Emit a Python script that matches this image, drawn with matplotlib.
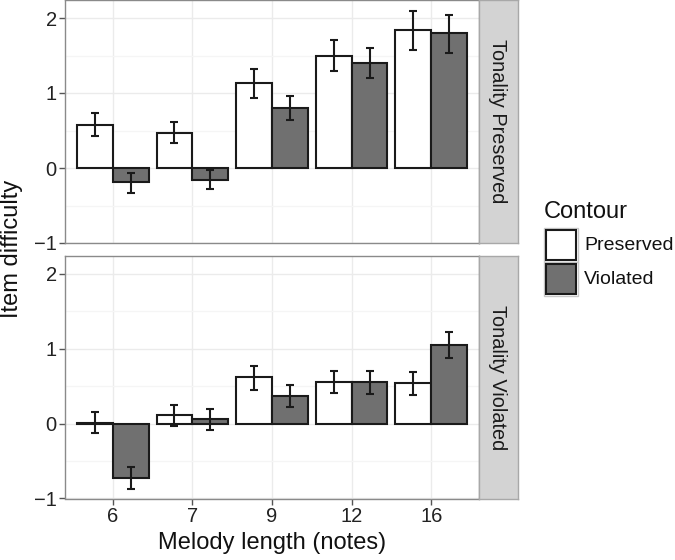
import matplotlib
matplotlib.use("Agg")
import matplotlib.pyplot as plt
from matplotlib.patches import Rectangle
import numpy as np

plt.rcParams['font.family'] = ['Liberation Sans', 'DejaVu Sans']

lengths = ["6", "7", "9", "12", "16"]
contours = ["Preserved", "Violated"]
tonality = ["Tonality Preserved", "Tonality Violated"]

# Tonality Preserved panel
tp_pres = [0.58, 0.47, 1.13, 1.50, 1.84]
tp_pres_lo = [0.43, 0.33, 0.94, 1.29, 1.58]
tp_pres_hi = [0.74, 0.62, 1.32, 1.71, 2.09]
tp_viol = [-0.19, -0.16, 0.80, 1.40, 1.80]
tp_viol_lo = [-0.33, -0.28, 0.64, 1.20, 1.54]
tp_viol_hi = [-0.06, -0.02, 0.96, 1.60, 2.04]

# Tonality Violated panel
tv_pres = [0.01, 0.11, 0.62, 0.56, 0.54]
tv_pres_lo = [-0.12, -0.03, 0.45, 0.41, 0.38]
tv_pres_hi = [0.15, 0.25, 0.77, 0.71, 0.69]
tv_viol = [-0.73, 0.06, 0.37, 0.55, 1.05]
tv_viol_lo = [-0.87, -0.08, 0.22, 0.39, 0.88]
tv_viol_hi = [-0.58, 0.19, 0.51, 0.70, 1.23]

fill_colors = {"Preserved": "#ffffff", "Violated": "#707070"}

W, H = 675, 560
fig = plt.figure(figsize=(W / 100, H / 100), dpi=100)

def fx(px):
    return px / W

def fy(py):
    return 1 - py / H

left, right = 65, 479
panels = [(0, 243), (256, 498.5)]
strip_w = 39

data = [
    (tp_pres, tp_pres_lo, tp_pres_hi, tp_viol, tp_viol_lo, tp_viol_hi),
    (tv_pres, tv_pres_lo, tv_pres_hi, tv_viol, tv_viol_lo, tv_viol_hi),
]

x = np.arange(1, len(lengths) + 1)
bw = 0.45
border_col = "#8a8a8a"

for i, (top, bot) in enumerate(panels):
    ax = fig.add_axes([fx(left), fy(bot), fx(right - left), (bot - top) / H])
    pres, plo, phi, viol, vlo, vhi = data[i]
    for vals, lo, hi, off, c in [(pres, plo, phi, -bw / 2, "Preserved"),
                                 (viol, vlo, vhi, bw / 2, "Violated")]:
        vals = np.array(vals)
        ax.bar(x + off, vals, width=bw, color=fill_colors[c], edgecolor="#1a1a1a",
               linewidth=1.5, zorder=3)
        ax.errorbar(x + off, vals, yerr=[vals - np.array(lo), np.array(hi) - vals],
                    fmt="none", ecolor="#1a1a1a", elinewidth=1.5, capsize=2.6,
                    capthick=1.5, zorder=4)
    ax.set_xlim(0.4, 5.6)
    ax.set_ylim(-1.0, 2.24)
    ax.set_yticks([-1, 0, 1, 2])
    ax.set_yticklabels(["\u22121", "0", "1", "2"])
    ax.set_yticks([-0.5, 0.5, 1.5], minor=True)
    ax.set_xticks(x)
    ax.grid(True, which="major", color="#ebebeb", linewidth=1.0, zorder=0)
    ax.grid(True, which="minor", axis="y", color="#f5f5f5", linewidth=1.0, zorder=0)
    ax.set_axisbelow(True)
    for s in ax.spines.values():
        s.set_color(border_col)
        s.set_linewidth(1.0)
    ax.tick_params(axis="y", which="major", length=4, width=1.0, color="#555555",
                   labelsize=14.5, labelcolor="#222222", pad=2)
    ax.tick_params(axis="y", which="minor", length=0)
    if i == 1:
        ax.set_xticklabels(lengths)
        ax.tick_params(axis="x", length=4, width=1.0, color="#555555",
                       labelsize=14.5, labelcolor="#222222", pad=2)
    else:
        ax.tick_params(axis="x", length=0, labelbottom=False)

    # facet strip
    sax = fig.add_axes([fx(right), fy(bot), fx(strip_w), (bot - top) / H])
    sax.set_facecolor("#d3d3d3")
    sax.set_xticks([])
    sax.set_yticks([])
    for s in sax.spines.values():
        s.set_color("#a8a8a8")
        s.set_linewidth(1.0)
    sax.text(0.47, 0.5, tonality[i], rotation=-90, ha="center", va="center",
             fontsize=14.3, color="#1a1a1a", transform=sax.transAxes)

# axis titles
fig.text(fx(12), fy(249), "Item difficulty", rotation=90, ha="center", va="center",
         fontsize=17, color="#111111")
fig.text(fx((left + right) / 2), fy(543), "Melody length (notes)", ha="center",
         va="center", fontsize=17, color="#111111")

# legend
fig.text(fx(544), fy(212), "Contour", ha="left", va="center", fontsize=17,
         color="#111111")
key_x, key_w, key_h = 544, 34, 34
for j, c in enumerate(contours):
    ky = 228 + j * key_h
    fig.patches.append(Rectangle((fx(key_x), fy(ky + key_h)), fx(key_w), key_h / H,
                                 transform=fig.transFigure, facecolor="white",
                                 edgecolor="#c8c8c8", linewidth=1.0))
    fig.patches.append(Rectangle((fx(key_x + 2), fy(ky + key_h - 2)), fx(key_w - 4),
                                 (key_h - 4) / H, transform=fig.transFigure,
                                 facecolor=fill_colors[c], edgecolor="#1a1a1a",
                                 linewidth=1.5))
    fig.text(fx(584), fy(ky + key_h / 2), c, ha="left", va="center", fontsize=14,
             color="#111111")

fig.savefig("out.png", dpi=100)
